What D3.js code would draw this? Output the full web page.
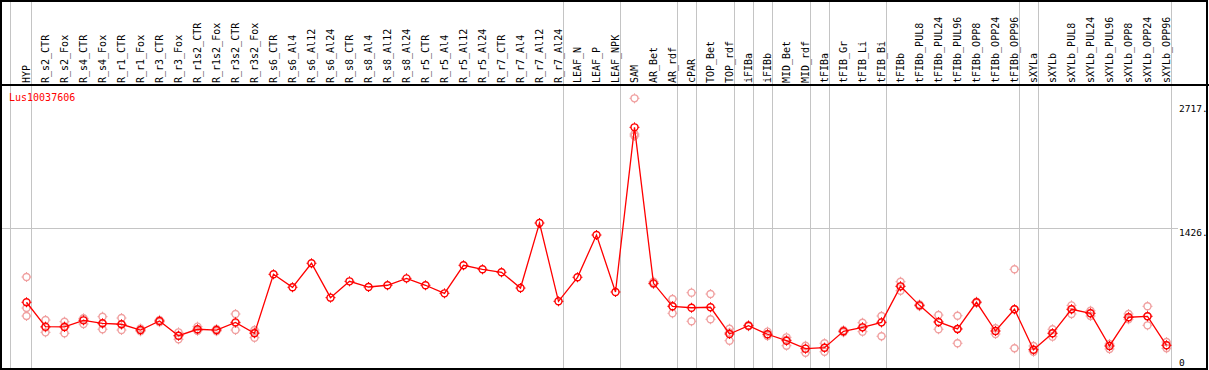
<!DOCTYPE html>
<html><head><meta charset="utf-8">
<script src="https://cdn.jsdelivr.net/npm/d3@7"></script>
<style>body{margin:0;background:#fff;}svg{display:block;}</style>
</head><body>
<svg id="c" width="1209" height="370"></svg>
<script>
const title = "Lus10037606";
const categories = ["HYP","R_s2_CTR","R_s2_Fox","R_s4_CTR","R_s4_Fox","R_r1_CTR","R_r1_Fox","R_r3_CTR","R_r3_Fox","R_r1s2_CTR","R_r1s2_Fox","R_r3s2_CTR","R_r3s2_Fox","R_s6_CTR","R_s6_Al4","R_s6_Al12","R_s6_Al24","R_s8_CTR","R_s8_Al4","R_s8_Al12","R_s8_Al24","R_r5_CTR","R_r5_Al4","R_r5_Al12","R_r5_Al24","R_r7_CTR","R_r7_Al4","R_r7_Al12","R_r7_Al24","LEAF_N","LEAF_P","LEAF_NPK","SAM","AR_Bet","AR_rdf","cPAR","TOP_Bet","TOP_rdf","iFIBa","iFIBb","MID_Bet","MID_rdf","tFIBa","tFIB_Gr","tFIB_Li","tFIB_Bi","tFIBb","tFIBb_PUL8","tFIBb_PUL24","tFIBb_PUL96","tFIBb_OPP8","tFIBb_OPP24","tFIBb_OPP96","sXYLa","sXYLb","sXYLb_PUL8","sXYLb_PUL24","sXYLb_PUL96","sXYLb_OPP8","sXYLb_OPP24","sXYLb_OPP96"];
const meanValues = [653,399,396,465,434,424,364,458,305,372,364,444,330,944,809,1059,701,871,812,830,902,830,746,1038,996,965,801,1478,663,913,1353,760,2474,850,611,596,601,323,409,320,253,170,180,351,392,444,819,621,448,375,653,354,580,159,330,580,538,198,497,507,205];
const replicateValues = [
 [916,593,510],[468,390,340],[451,405,330],[486,480,427],[503,428,372],[489,420,364],[380,364,350],[470,458,446],[340,305,268],[399,360,357],[375,364,352],[531,437,364],[364,340,284],
 [],[],[],[],[],[],[],[],[],[],[],[],[],[],[],[],[],[],[],
 [2776,2404,2384],[867,850,843],[687,611,538],[753,455],[739,476],[378,338,253],[415,409,403],[347,320,302],[288,260,201],[201,170,128],[226,180,138],[362,351,340],[440,392,347],[510,444,299],
 [867,819,773],[630,621,612],[520,448,372],[513,375,226],[660,653,646],[382,354,323],[996,580,174],[198,159,138],[372,330,295],[621,580,531],[565,538,510],[219,198,167],[531,497,476],[611,507,413],[239,205,174]
];
const groupEnds = ["HYP","R_r7_Al24","LEAF_NPK","AR_rdf","cPAR","TOP_rdf","iFIBa","iFIBb","MID_rdf","tFIBa","tFIB_Bi","tFIBb_OPP96","sXYLa","sXYLb_OPP96"];
const yTicks = [0,1426,2717];
const yMax = 2717;

const svg = d3.select("#c");
const W = 1209, H = 370;
const x = d3.scaleBand().domain(categories).range([17, 17 + 19*categories.length]);
const cx = d => x(d) + x.bandwidth()/2;
const y = d3.scaleLinear().domain([0, yMax]).range([365, 104]);
const mono = "'DejaVu Sans Mono', monospace";

// horizontal reference line
svg.append("line").attr("x1",2).attr("x2",1178).attr("y1",Math.round(y(1426))+0.5).attr("y2",Math.round(y(1426))+0.5)
  .attr("stroke","#c4c4c4").attr("stroke-width",1);

// group separators
svg.append("line").attr("x1",10.5).attr("x2",10.5).attr("y1",0).attr("y2",H).attr("stroke","#c4c4c4");
groupEnds.forEach(g => {
  const xx = Math.round(cx(g) + 4) + 0.5;
  svg.append("line").attr("x1",xx).attr("x2",xx).attr("y1",0).attr("y2",H).attr("stroke","#c4c4c4");
});

// frame
svg.append("rect").attr("x",1).attr("y",1).attr("width",1206).attr("height",368)
  .attr("fill","none").attr("stroke","#000").attr("stroke-width",2);
svg.append("line").attr("x1",0).attr("x2",W).attr("y1",85).attr("y2",85).attr("stroke","#000").attr("stroke-width",2);

// column labels
svg.append("g").selectAll("text").data(categories).join("text")
  .attr("transform", d => `translate(${cx(d)+3.5},83) rotate(-90)`)
  .attr("font-family", mono).attr("font-size", 10).attr("fill","#000")
  .text(d => d);

// title
svg.append("text").attr("x",9).attr("y",101).attr("font-family",mono).attr("font-size",10)
  .attr("fill","#ff0000").text(title);

// y tick labels
svg.append("g").selectAll("text").data(yTicks).join("text")
  .attr("x",1179).attr("y", d => Math.min(y(d)+8, 366))
  .attr("font-family",mono).attr("font-size",9.5).attr("fill","#000")
  .text(d => d === 0 ? "0" : d + ".");

function marker(g, px, py, color){
  g.append("circle").attr("cx",px).attr("cy",py).attr("r",3.5).attr("fill","none")
    .attr("stroke",color).attr("stroke-width",1.4);
  [[0,-1],[0,1],[-1,0],[1,0]].forEach(([dx,dy]) => {
    g.append("line").attr("x1",px+dx*3.5).attr("y1",py+dy*3.5).attr("x2",px+dx*5).attr("y2",py+dy*5)
      .attr("stroke",color).attr("stroke-width",1);
  });
}

// replicates
const gr = svg.append("g");
categories.forEach((c,i) => replicateValues[i].forEach(v => marker(gr, cx(c), y(v), "#f0a0a0")));

// mean line
const line = d3.line().x((d,i) => cx(categories[i])).y(d => y(d));
svg.append("path").datum(meanValues).attr("d", line).attr("fill","none")
  .attr("stroke","#ff0000").attr("stroke-width",1.3);

const gm = svg.append("g");
categories.forEach((c,i) => marker(gm, cx(c), y(meanValues[i]), "#ff0000"));
</script>
</body></html>
